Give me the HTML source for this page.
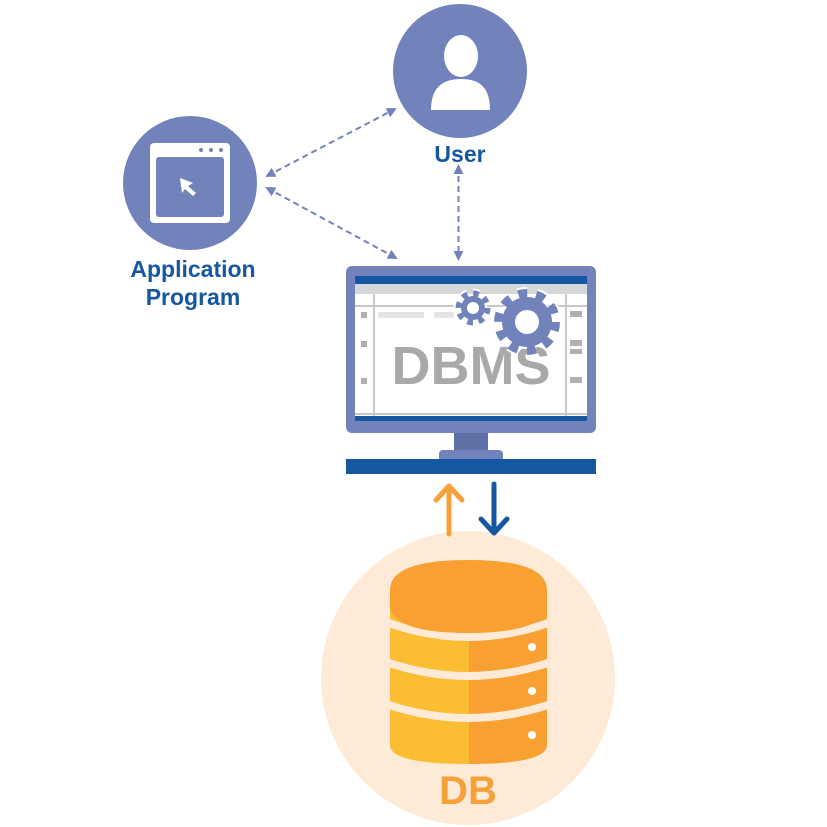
<!DOCTYPE html>
<html><head><meta charset="utf-8"><style>
html,body{margin:0;padding:0;background:#fff;}
svg{display:block;}
text{font-family:"Liberation Sans",sans-serif;font-weight:bold;}
</style></head><body>
<svg width="827" height="827" viewBox="0 0 827 827" xmlns="http://www.w3.org/2000/svg">
<defs>
<marker id="ah" markerWidth="10" markerHeight="10" refX="8" refY="5" orient="auto-start-reverse" markerUnits="userSpaceOnUse">
<path d="M0,0 L10,5 L0,10 z" fill="#7283bb"/></marker>
</defs>
<!-- connectors -->
<g stroke="#7283bb" stroke-width="2" stroke-dasharray="6,4" fill="none">
<line x1="267" y1="176" x2="395" y2="109" marker-start="url(#ah)" marker-end="url(#ah)"/>
<line x1="267" y1="188" x2="396" y2="258" marker-start="url(#ah)" marker-end="url(#ah)"/>
<line x1="458.5" y1="166" x2="458.5" y2="259" marker-start="url(#ah)" marker-end="url(#ah)"/>
</g>
<!-- user -->
<circle cx="460" cy="71" r="67" fill="#7283bb"/>
<ellipse cx="461" cy="56" rx="17" ry="21" fill="#fff"/>
<path d="M431,110 C431,90 440,79 461,79 C482,79 490,90 490,110 Z" fill="#fff"/>
<text x="460" y="162" font-size="23" fill="#1557a0" text-anchor="middle">User</text>
<!-- app -->
<circle cx="190" cy="183" r="67" fill="#7283bb"/>
<rect x="150" y="143" width="80" height="80" rx="4" fill="#fff"/>
<rect x="156" y="157" width="68" height="60" rx="3" fill="#7283bb"/>
<circle cx="201" cy="150" r="2" fill="#7283bb"/><circle cx="211" cy="150" r="2" fill="#7283bb"/><circle cx="221" cy="150" r="2" fill="#7283bb"/>
<path d="M180,178 L193,183 L188,186 L196,193 L193,196 L185,189 L182,193 Z" fill="#fff"/>
<text x="193" y="277" font-size="23" fill="#1557a0" text-anchor="middle">Application</text>
<text x="193" y="305" font-size="23" fill="#1557a0" text-anchor="middle">Program</text>
<!-- monitor -->
<rect x="346" y="266" width="250" height="167" rx="6" fill="#7283bb"/>
<rect x="355" y="276" width="232" height="145" fill="#fff"/>
<rect x="355" y="276" width="232" height="8" fill="#1557a0"/>
<rect x="355" y="284" width="232" height="10" fill="#d6d7d8"/>
<g stroke="#c8c8c8" stroke-width="2" fill="none">
<line x1="355" y1="306" x2="587" y2="306"/>
<line x1="374" y1="294" x2="374" y2="416"/>
<line x1="566" y1="294" x2="566" y2="416"/>
<line x1="355" y1="414" x2="587" y2="414"/>
</g>
<g fill="#b0b0b0">
<rect x="361" y="312" width="6" height="6"/><rect x="361" y="341" width="6" height="6"/><rect x="361" y="378" width="6" height="6"/>
<rect x="570" y="311" width="12" height="6"/><rect x="570" y="340" width="12" height="6"/><rect x="570" y="349" width="12" height="5"/><rect x="570" y="377" width="12" height="6"/>
</g>
<rect x="378" y="312" width="46" height="6" fill="#e4e4e4"/>
<rect x="434" y="312" width="20" height="6" fill="#e4e4e4"/>
<rect x="355" y="416" width="232" height="5" fill="#1557a0"/>
<text x="471" y="384" font-size="54" fill="#a9a9a9" text-anchor="middle" style="font-weight:bold">DBMS</text>
<!-- gears -->
<g>
<circle cx="473" cy="308" r="14" fill="none" stroke="#fff" stroke-width="11" stroke-dasharray="5.5,5.5"/>
<circle cx="473" cy="308" r="14" fill="#fff"/>
<circle cx="473" cy="308" r="14" fill="none" stroke="#7283bb" stroke-width="7" stroke-dasharray="5.5,5.5"/>
<circle cx="473" cy="308" r="12" fill="#7283bb"/>
<circle cx="473" cy="308" r="6" fill="#fff"/>
<circle cx="527" cy="322" r="28" fill="none" stroke="#fff" stroke-width="14" stroke-dasharray="8.8,8.8"/>
<circle cx="527" cy="322" r="27" fill="#fff"/>
<circle cx="527" cy="322" r="28" fill="none" stroke="#7283bb" stroke-width="10" stroke-dasharray="8.8,8.8"/>
<circle cx="527" cy="322" r="25" fill="#7283bb"/>
<circle cx="527" cy="322" r="12" fill="#fff"/>
</g>
<rect x="454" y="433" width="34" height="20" fill="#5f72a8"/>
<rect x="439" y="450" width="64" height="12" rx="4" fill="#7283bb"/>
<rect x="346" y="459" width="250" height="15" fill="#1557a0"/>
<!-- DB -->
<circle cx="468" cy="678" r="147" fill="#fdebd7"/>
<g stroke-width="5" fill="none" stroke-linecap="round" stroke-linejoin="round">
<path d="M449,534 V486 M436,500 L449,486 L462,500" stroke="#f7a03a"/>
<path d="M494,484 V533 M481,519 L494,533 L507,519" stroke="#1557a0"/>
</g>
<clipPath id="cyl"><path d="M390,600 V745 Q390,764 468,764 Q547,764 547,745 V600 Z"/></clipPath>
<g clip-path="url(#cyl)">
<rect x="390" y="590" width="79" height="180" fill="#fbbd33"/>
<rect x="469" y="590" width="79" height="180" fill="#f9a033"/>
</g>
<g stroke="#fdebd7" stroke-width="8" fill="none">
<path d="M386,662 Q468,690 551,662"/>
<path d="M386,704 Q468,732 551,704"/>
<path d="M386,622 Q468,652 551,622"/>
</g>
<path d="M390,590 Q390,560 468,560 Q547,560 547,590 V604 Q547,633 468,633 Q390,633 390,604 Z" fill="#f9a033"/>
<g fill="#fff"><circle cx="532" cy="647" r="4"/><circle cx="532" cy="691" r="4"/><circle cx="532" cy="735" r="4"/></g>
<text x="468" y="804" font-size="40" fill="#f7a03a" text-anchor="middle">DB</text>
</svg>
</body></html>
